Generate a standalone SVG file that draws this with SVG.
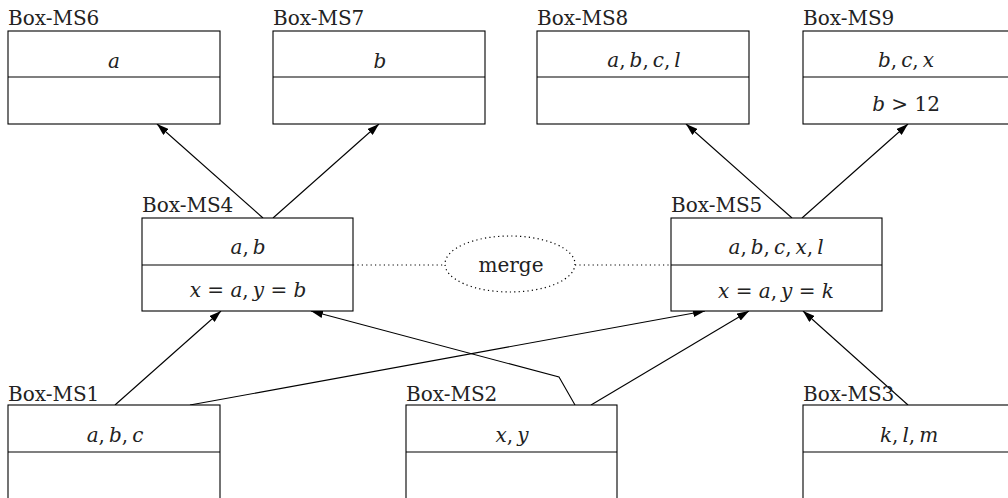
<svg xmlns="http://www.w3.org/2000/svg" width="1008" height="498" viewBox="0 0 1008 498">
<defs>
<marker id="ah" markerUnits="userSpaceOnUse" markerWidth="12" markerHeight="8" refX="12" refY="4" orient="auto">
<path d="M0,0 L12,4 L0,8 z" fill="#000"/>
</marker>
<style>
.box{fill:#fff;stroke:#000;stroke-width:1.1}
.div{stroke:#000;stroke-width:1.1}
.lbl{font-family:'DejaVu Serif',serif;font-size:20px;fill:#222}
.m{font-family:'DejaVu Serif',serif;font-size:20px;fill:#222;text-anchor:middle;font-style:italic}
.u{font-style:normal}
.arr{fill:none;stroke:#000;stroke-width:1.1;marker-end:url(#ah)}
.dot{fill:none;stroke:#000;stroke-width:1.2;stroke-dasharray:1.2 3.2}
</style>
</defs>
<rect width="1008" height="498" fill="#fff"/>

<g id="connectors">
<line class="arr" x1="263" y1="218" x2="157" y2="124"/>
<line class="arr" x1="273" y1="218" x2="379" y2="124"/>
<line class="arr" x1="792" y1="218" x2="686" y2="124"/>
<line class="arr" x1="802" y1="218" x2="908" y2="124"/>
<line class="arr" x1="115" y1="405" x2="221" y2="311"/>
<line class="arr" x1="190" y1="405" x2="705" y2="311"/>
<polyline class="arr" points="575,405 559,377 311,311"/>
<line class="arr" x1="591" y1="405" x2="749" y2="311"/>
<line class="arr" x1="908" y1="405" x2="803" y2="311"/>
<line class="dot" x1="353" y1="265" x2="445" y2="265"/>
<line class="dot" x1="575" y1="265" x2="671" y2="265"/>
</g>

<g id="merge">
<ellipse class="dot" cx="510" cy="264" rx="65" ry="28"/>
<text class="lbl" x="511" y="272" text-anchor="middle">merge</text>
</g>

<g id="ms6">
<text class="lbl" x="8" y="25">Box-MS6</text>
<rect class="box" x="8" y="31" width="212" height="93"/>
<line class="div" x1="8" y1="77" x2="220" y2="77"/>
<text class="m" x="114" y="68">a</text>
</g>

<g id="ms7">
<text class="lbl" x="273" y="25">Box-MS7</text>
<rect class="box" x="273" y="31" width="212" height="93"/>
<line class="div" x1="273" y1="77" x2="485" y2="77"/>
<text class="m" x="380" y="68">b</text>
</g>

<g id="ms8">
<text class="lbl" x="537" y="25">Box-MS8</text>
<rect class="box" x="537" y="31" width="212" height="93"/>
<line class="div" x1="537" y1="77" x2="749" y2="77"/>
<text class="m" x="644" y="67">a<tspan class="u">,&#8201;</tspan>b<tspan class="u">,&#8201;</tspan>c<tspan class="u">,&#8201;</tspan>l</text>
</g>

<g id="ms9">
<text class="lbl" x="803" y="25">Box-MS9</text>
<rect class="box" x="803" y="31" width="212" height="93"/>
<line class="div" x1="803" y1="77" x2="1015" y2="77"/>
<text class="m" x="906" y="67">b<tspan class="u">,&#8201;</tspan>c<tspan class="u">,&#8201;</tspan>x</text>
<text class="m" x="906" y="111">b<tspan class="u"> &gt; 12</tspan></text>
</g>

<g id="ms4">
<text class="lbl" x="142" y="212">Box-MS4</text>
<rect class="box" x="142" y="218" width="211" height="93"/>
<line class="div" x1="142" y1="265" x2="353" y2="265"/>
<text class="m" x="248" y="254">a<tspan class="u">,&#8201;</tspan>b</text>
<text class="m" x="248" y="297">x<tspan class="u"> = </tspan>a<tspan class="u">,&#8201;</tspan>y<tspan class="u"> = </tspan>b</text>
</g>

<g id="ms5">
<text class="lbl" x="671" y="212">Box-MS5</text>
<rect class="box" x="671" y="218" width="211" height="93"/>
<line class="div" x1="671" y1="265" x2="882" y2="265"/>
<text class="m" x="776" y="254">a<tspan class="u">,&#8201;</tspan>b<tspan class="u">,&#8201;</tspan>c<tspan class="u">,&#8201;</tspan>x<tspan class="u">,&#8201;</tspan>l</text>
<text class="m" x="776" y="298">x<tspan class="u"> = </tspan>a<tspan class="u">,&#8201;</tspan>y<tspan class="u"> = </tspan>k</text>
</g>

<g id="ms1">
<text class="lbl" x="8" y="401">Box-MS1</text>
<rect class="box" x="8" y="405" width="212" height="100"/>
<line class="div" x1="8" y1="452" x2="220" y2="452"/>
<text class="m" x="115" y="442">a<tspan class="u">,&#8201;</tspan>b<tspan class="u">,&#8201;</tspan>c</text>
</g>

<g id="ms2">
<text class="lbl" x="406" y="401">Box-MS2</text>
<rect class="box" x="406" y="405" width="211" height="100"/>
<line class="div" x1="406" y1="452" x2="617" y2="452"/>
<text class="m" x="512" y="442">x<tspan class="u">,&#8201;</tspan>y</text>
</g>

<g id="ms3">
<text class="lbl" x="803" y="401">Box-MS3</text>
<rect class="box" x="803" y="405" width="212" height="100"/>
<line class="div" x1="803" y1="452" x2="1015" y2="452"/>
<text class="m" x="909" y="442">k<tspan class="u">,&#8201;</tspan>l<tspan class="u">,&#8201;</tspan>m</text>
</g>
</svg>
